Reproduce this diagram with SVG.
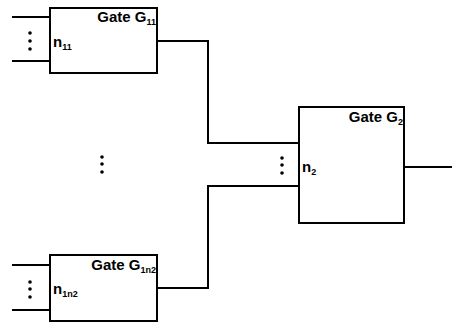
<svg xmlns="http://www.w3.org/2000/svg" width="452" height="323" viewBox="0 0 452 323">
<style>
.box{fill:#fff;stroke:#000;stroke-width:2}
.w{fill:none;stroke:#000;stroke-width:2}
.t{font-family:"Liberation Sans",Arial,sans-serif;font-weight:bold;font-size:15px;fill:#000}
.s{font-size:9px}
.d{fill:#000}
</style>
<rect width="452" height="323" fill="#fff"/>
<g id="connectors">
<path class="w" d="M12 17H50M12 61H50"/>
<path class="w" d="M12 265H50M12 310H50"/>
<path class="w" d="M157 41H208V143H299"/>
<path class="w" d="M157 288H208V186H299"/>
<path class="w" d="M404 167H452"/>
</g>
<g id="dots" class="d">
<circle cx="30" cy="33" r="1.8"/><circle cx="30" cy="41" r="1.8"/><circle cx="30" cy="49" r="1.8"/>
<circle cx="30" cy="282" r="1.8"/><circle cx="30" cy="289" r="1.8"/><circle cx="30" cy="297" r="1.8"/>
<circle cx="102" cy="157" r="1.8"/><circle cx="102" cy="164" r="1.8"/><circle cx="102" cy="172" r="1.8"/>
<circle cx="282" cy="158" r="1.8"/><circle cx="282" cy="165" r="1.8"/><circle cx="282" cy="173" r="1.8"/>
</g>
<g id="G11">
<rect class="box" x="50" y="8" width="107" height="65"/>
<text class="t" x="156" y="22" text-anchor="end">Gate G<tspan class="s" dy="3">11</tspan></text>
<text class="t" x="53" y="47">n<tspan class="s" dy="3">11</tspan></text>
</g>
<g id="G1n2">
<rect class="box" x="50" y="255" width="107" height="66"/>
<text class="t" x="156" y="270" text-anchor="end">Gate G<tspan class="s" dy="3">1n2</tspan></text>
<text class="t" x="53" y="294">n<tspan class="s" dy="3">1n2</tspan></text>
</g>
<g id="G2">
<rect class="box" x="299" y="107" width="105" height="116"/>
<text class="t" x="403" y="122" text-anchor="end">Gate G<tspan class="s" dy="3">2</tspan></text>
<text class="t" x="302" y="172">n<tspan class="s" dy="3">2</tspan></text>
</g>
</svg>
